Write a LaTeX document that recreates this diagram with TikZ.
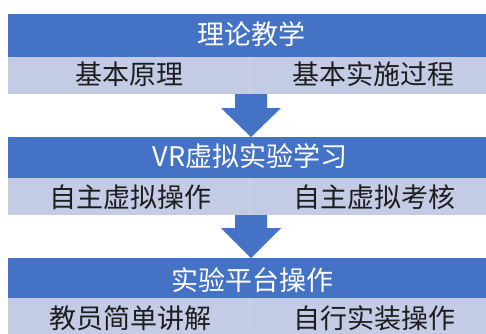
\documentclass[tikz,border=0pt]{standalone}
\usepackage{fontspec}
\setmainfont{Noto Sans CJK SC}
\usetikzlibrary{calc}
\definecolor{darkband}{HTML}{4472C4}
\definecolor{lightband}{HTML}{C3CBE5}
\definecolor{subtext}{HTML}{1E1E1E}
\tikzset{
  dark/.style={fill=darkband, draw=none, inner sep=0pt, anchor=north west},
  light/.style={fill=lightband, draw=none, inner sep=0pt, anchor=north west},
  headtxt/.style={text=white, font=\fontsize{27}{27}\selectfont, inner sep=0pt},
  subtxt/.style={text=subtext, font=\fontsize{27}{27}\selectfont, inner sep=0pt},
  blockarrow/.style={fill=darkband, draw=none},
  divider/.style={draw=white, opacity=0.2, line width=0.6pt}
}
\begin{document}
\begin{tikzpicture}[x=1pt,y=-1pt]
\useasboundingbox (0,0) rectangle (486,333);
% bands
\node[dark, minimum width=478pt, minimum height=43pt] (d1) at (8,14) {};
\node[light, minimum width=478pt, minimum height=37pt] (l1) at (8,57) {};
\node[dark, minimum width=478pt, minimum height=41pt] (d2) at (8,137) {};
\node[light, minimum width=478pt, minimum height=37pt] (l2) at (8,178) {};
\node[dark, minimum width=478pt, minimum height=40pt] (d3) at (8,258) {};
\node[light, minimum width=478pt, minimum height=36pt] (l3) at (8,298) {};
% faint dividers
\draw[divider] (249,57) -- (249,94);
\draw[divider] (249,178) -- (249,215);
\draw[divider] (249,298) -- (249,333);
% texts
\node[headtxt] (t1) at (251,34) {理论教学};
\node[subtxt] (s1a) at (129,74.5) {基本原理};
\node[subtxt] (s1b) at (373.5,74.5) {基本实施过程};
\node[headtxt] (t2) at (250,156) {VR虚拟实验学习};
\node[subtxt] (s2a) at (130,197) {自主虚拟操作};
\node[subtxt] (s2b) at (374,197) {自主虚拟考核};
\node[headtxt] (t3) at (252,280) {实验平台操作};
\node[subtxt] (s3a) at (130,318.5) {教员简单讲解};
\node[subtxt] (s3b) at (374,318.5) {自行实装操作};
% block arrows
\coordinate (a1top) at (251,94);
\coordinate (a1tip) at (251,137);
\coordinate (a2top) at (251,215);
\coordinate (a2tip) at (251,258);
\fill[blockarrow] ($(a1top)+(-16,0)$) -- ($(a1top)+(16,0)$) -- ($(a1top)+(16,14)$) -- ($(a1top)+(30,14)$)
  -- (a1tip) -- ($(a1top)+(-30,14)$) -- ($(a1top)+(-16,14)$) -- cycle;
\fill[blockarrow] ($(a2top)+(-16,0)$) -- ($(a2top)+(16,0)$) -- ($(a2top)+(16,13)$) -- ($(a2top)+(30,13)$)
  -- (a2tip) -- ($(a2top)+(-30,13)$) -- ($(a2top)+(-16,13)$) -- cycle;
\end{tikzpicture}
\end{document}
